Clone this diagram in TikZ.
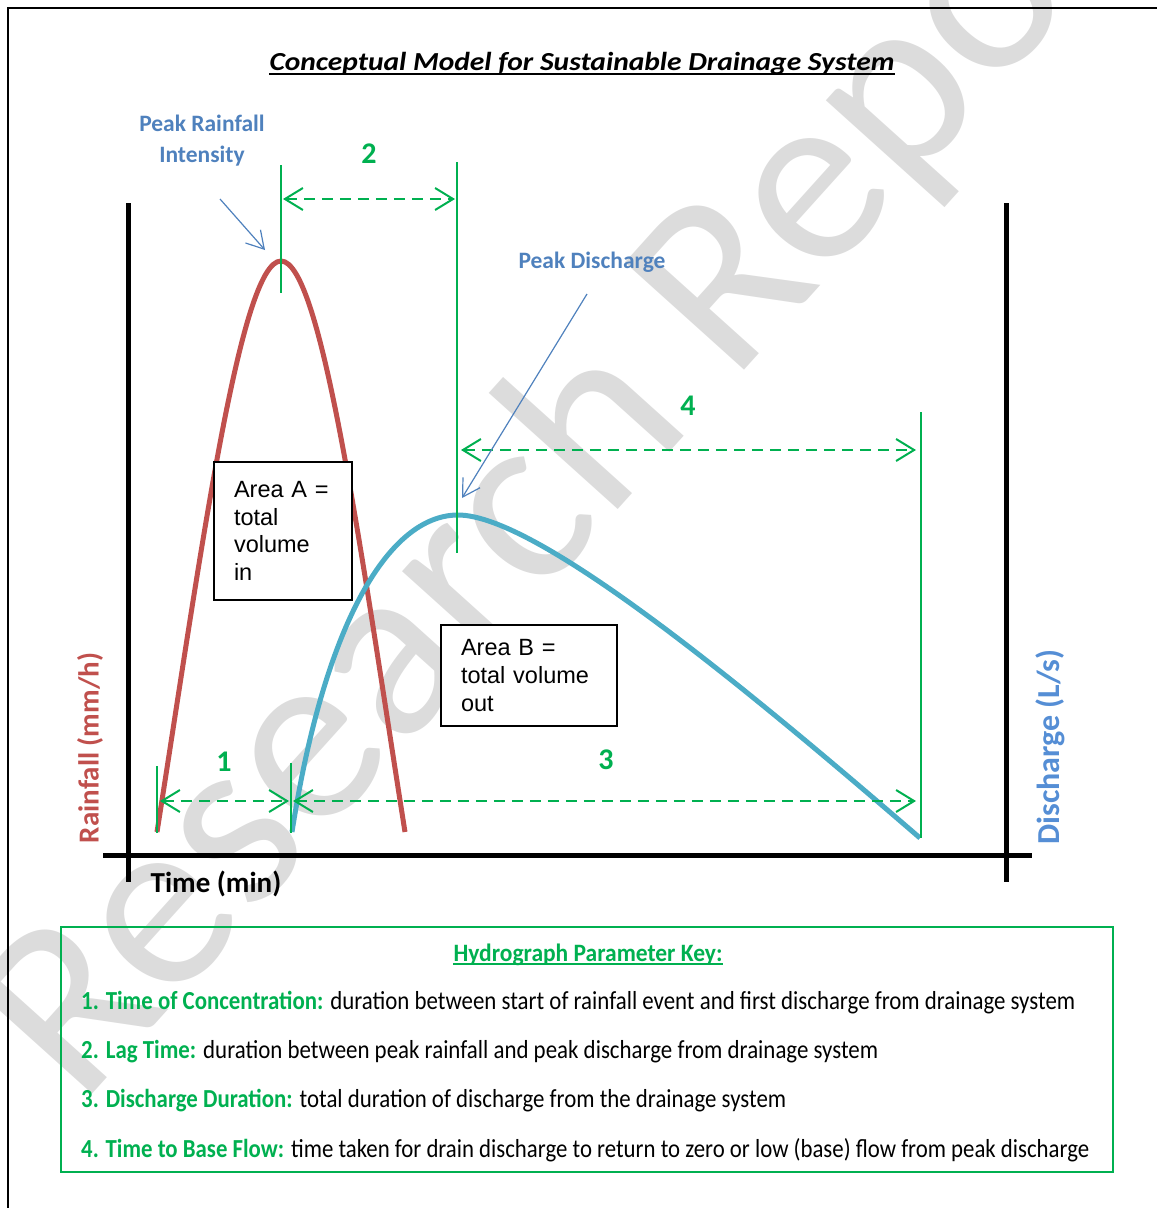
\documentclass[tikz,border=0pt]{standalone}
\usepackage{graphicx}
\usepackage{fontspec}
\setmainfont{Carlito}
\newfontfamily\arialfont{Liberation Sans}
\usetikzlibrary{arrows.meta}

\definecolor{rainred}{HTML}{C0504D}
\definecolor{flowblue}{HTML}{4BACC6}
\definecolor{keygreen}{HTML}{00B050}
\definecolor{labelblue}{HTML}{4F81BD}
\definecolor{axisblue}{HTML}{558ED5}
\definecolor{markgray}{HTML}{DCDCDC}

% squeeze a line of text horizontally to a given width (in pt)
\newsavebox\fitbox
\newcommand\fitto[2]{%
  \sbox\fitbox{#2}%
  \pgfmathsetmacro\fitratio{#1/\the\wd\fitbox}%
  \scalebox{\fitratio}[1]{\usebox\fitbox}}

\tikzset{
  axisline/.style={line width=5pt, black},
  rainfall/.style={line width=5pt, rainred},
  outflow/.style={line width=5pt, flowblue},
  marker/.style={line width=2pt, keygreen},
  span/.style={line width=2pt, keygreen, dash pattern=on 11pt off 7pt,
    {Straight Barb[length=18pt,width=22pt]}-{Straight Barb[length=18pt,width=22pt]}},
  pointer/.style={line width=1.2pt, labelblue, -{Straight Barb[length=17pt,width=20pt]}},
  spanlabel/.style={text=keygreen, inner sep=0pt, font=\fontsize{30}{30}\selectfont\bfseries},
  callout/.style={text=labelblue, inner sep=0pt, align=center, font=\fontsize{23.5}{31}\selectfont\bfseries},
  areabox/.style={draw, line width=1.5pt, fill=white, align=left, inner xsep=20pt,
    font=\arialfont\fontsize{23.5}{27.7}\selectfont},
  keyline/.style={anchor=west, inner sep=0pt, font=\fontsize{26}{26}\selectfont},
}

\begin{document}
\begin{tikzpicture}[x=1pt, y=-1pt]
\useasboundingbox (0,0) rectangle (1157,1208);

% watermark behind everything
\begin{scope}
  \clip (0,0) rectangle (1157,1208);
  \node[rotate=48, anchor=base west, inner sep=0pt, text=markgray,
        font=\fontsize{250}{250}\selectfont] (mark) at (80,1108) {Research Repo};
\end{scope}

% page frame
\draw[line width=1.5pt] (8,1208) -- (8,8) -- (1157,8);

% title
\node[anchor=base, inner sep=0pt, font=\fontsize{26}{26}\selectfont\bfseries\itshape]
  (title) at (582,70) {\fitto{625}{Conceptual Model for Sustainable Drainage System}};
\draw[line width=1.6pt] ([yshift=-4pt]title.base west) -- ([yshift=-4pt]title.base east);

% axes
\coordinate (yLtop) at (128,203); \coordinate (yLbot) at (128,882);
\coordinate (yRtop) at (1006,203); \coordinate (yRbot) at (1006,882);
\coordinate (xL) at (103,855); \coordinate (xR) at (1032,855);
\draw[axisline] (yLtop) -- (yLbot);
\draw[axisline] (yRtop) -- (yRbot);
\draw[axisline] (xL) -- (xR);

\node[anchor=center, inner sep=0pt, font=\fontsize{29}{29}\selectfont\bfseries] (tlabel) at (216,884) {Time (min)};
\node[rotate=90, inner sep=0pt, text=rainred, font=\fontsize{29}{29}\selectfont\bfseries] (rlabel) at (90,748) {Rainfall (mm/h)};
\node[rotate=90, inner sep=0pt, text=axisblue, font=\fontsize{32}{32}\selectfont\bfseries] (dlabel) at (1050,747) {Discharge (L/s)};

% rainfall and discharge curves
\coordinate (rStart) at (157,832); \coordinate (rPeak) at (281,261); \coordinate (rEnd) at (405,832);
\coordinate (qStart) at (292,832); \coordinate (qPeak) at (458,515); \coordinate (qEnd) at (920,838);
\draw[rainfall] (rStart) .. controls (200,560) and (240,261) .. (rPeak)
                         .. controls (322,261) and (362,560) .. (rEnd);
\draw[outflow] (qStart) .. controls (325,620) and (390,515) .. (qPeak)
                        .. controls (540,515) and (760,700) .. (qEnd);

% area boxes
\node[areabox, minimum width=138pt, minimum height=138pt, text width=98pt] (areaA) at (283,531)
  {Area A =\\total\\volume\\in};
\node[areabox, minimum width=176pt, minimum height=101pt, text width=136pt] (areaB) at (529,675.5)
  {Area B =\\total volume\\out};

% timing markers
\coordinate (m0t) at (157,766); \coordinate (m0b) at (157,833);
\coordinate (m1t) at (291,763); \coordinate (m1b) at (291,833);
\coordinate (m2t) at (281,165); \coordinate (m2b) at (281,293);
\coordinate (m3t) at (457,162); \coordinate (m3b) at (457,553);
\coordinate (m4t) at (921,412); \coordinate (m4b) at (921,838);
\foreach \m in {0,...,4} \draw[marker] (m\m t) -- (m\m b);

% spans
\coordinate (s1a) at (160,801); \coordinate (s1b) at (289,801);
\coordinate (s3a) at (293,801); \coordinate (s3b) at (916,801);
\coordinate (s2a) at (283,199); \coordinate (s2b) at (455,199);
\coordinate (s4a) at (461,450); \coordinate (s4b) at (916,450);
\draw[span] (s1a) -- (s1b);
\draw[span] (s3a) -- (s3b);
\draw[span] (s2a) -- (s2b);
\draw[span] (s4a) -- (s4b);
\node[spanlabel] (n1) at (224,762) {1};
\node[spanlabel] (n2) at (369,154) {2};
\node[spanlabel] (n3) at (606,760) {3};
\node[spanlabel] (n4) at (688,406) {4};

% peak callouts
\node[callout] (peakRain) at (202,141) {Peak Rainfall\\Intensity};
\node[callout] (peakFlow) at (592,262) {Peak Discharge};
\coordinate (prFrom) at (220,199); \coordinate (prTo) at (265,250);
\coordinate (pdFrom) at (587,294); \coordinate (pdTo) at (462,498);
\draw[pointer] (prFrom) -- (prTo);
\draw[pointer] (pdFrom) -- (pdTo);

% parameter key
\node[draw=keygreen, line width=1.3pt, inner sep=0pt, minimum width=1052pt, minimum height=245pt]
  (keyframe) at (587,1049.5) {};
\node[anchor=base, inner sep=0pt, text=keygreen, font=\fontsize{25}{25}\selectfont\bfseries]
  (keytitle) at (588,961) {\fitto{269}{Hydrograph Parameter Key:}};
\draw[keygreen, line width=1.4pt] ([yshift=-3pt]keytitle.base west) -- ([yshift=-3pt]keytitle.base east);

\node[keyline] (k1) at (81,1003) {\fitto{994}{\textcolor{keygreen}{\bfseries 1. Time of Concentration:} duration between start of rainfall event and first discharge from drainage system}};
\node[keyline] (k2) at (81,1052) {\fitto{797}{\textcolor{keygreen}{\bfseries 2. Lag Time:} duration between peak rainfall and peak discharge from drainage system}};
\node[keyline] (k3) at (81,1101) {\fitto{705}{\textcolor{keygreen}{\bfseries 3. Discharge Duration:} total duration of discharge from the drainage system}};
\node[keyline] (k4) at (81,1150) {\fitto{1008}{\textcolor{keygreen}{\bfseries 4. Time to Base Flow:} time taken for drain discharge to return to zero or low (base) flow from peak discharge}};
\end{tikzpicture}
\end{document}
